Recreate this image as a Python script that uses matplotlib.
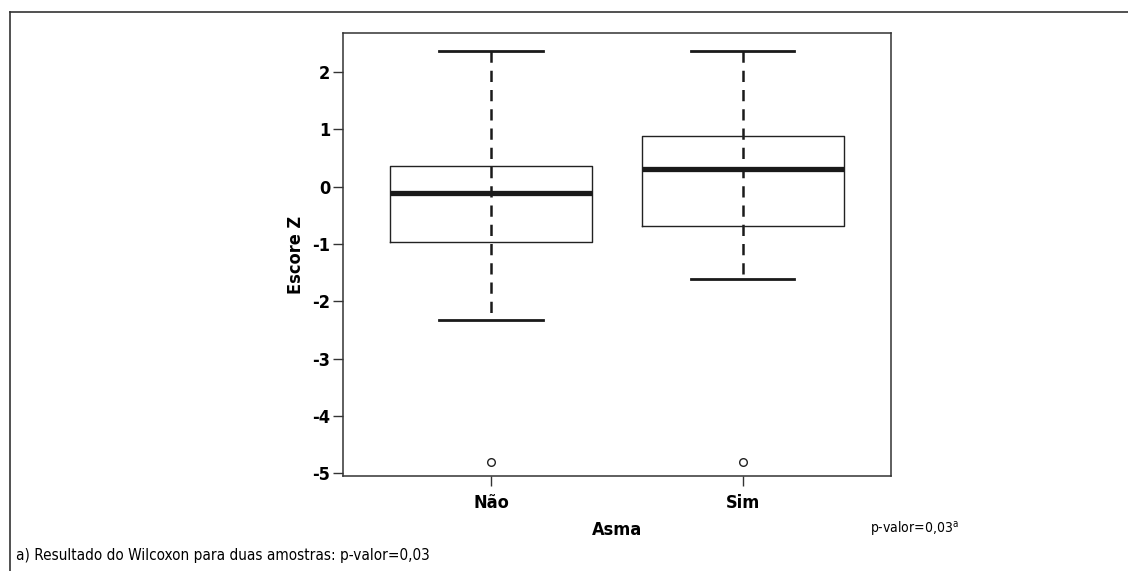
import matplotlib
matplotlib.use("Agg")
import matplotlib.pyplot as plt
from matplotlib.lines import Line2D

plt.rcParams['font.family'] = ['DejaVu Sans']
plt.rcParams['font.stretch'] = 'condensed'
plt.rcParams['axes.unicode_minus'] = False
plt.rcParams['mathtext.default'] = 'regular'

# dados
grupos = ["Não", "Sim"]
posicoes = [1, 2]
whislo = [-2.33, -1.62]
q1 = [-0.96, -0.68]
mediana = [-0.11, 0.31]
q3 = [0.36, 0.88]
whishi = [2.37, 2.37]
outliers = [[-4.81], [-4.81]]

stats = []
for i in range(len(grupos)):
    stats.append(dict(label=grupos[i], whislo=whislo[i], q1=q1[i], med=mediana[i],
                      q3=q3[i], whishi=whishi[i], fliers=outliers[i]))

fig = plt.figure(figsize=(11.28, 5.71), dpi=100)
ax = fig.add_axes([0.304, 0.166, 0.486, 0.776])

# linha tracejada passa por dentro da caixa, de extremo a extremo
ax.vlines(posicoes, whishi, whislo, colors='#1a1a1a', linewidth=1.8,
          linestyles=[(0, (4.5, 3.2))], zorder=1)

ax.bxp(stats, positions=posicoes, widths=0.8, patch_artist=False,
       boxprops=dict(color='#222222', linewidth=1.0),
       medianprops=dict(color='#1a1a1a', linewidth=3.8, solid_capstyle='butt'),
       whiskerprops=dict(linestyle='none'),
       capprops=dict(color='#1a1a1a', linewidth=2.0),
       capwidths=0.41,
       flierprops=dict(marker='o', markerfacecolor='none', markeredgecolor='#222222',
                       markersize=5.5, markeredgewidth=1.0))

ax.set_xlim(0.412, 2.589)
ax.set_ylim(-5.05, 2.675)
ax.set_yticks([2, 1, 0, -1, -2, -3, -4, -5])
ax.set_xticks(posicoes)
ax.set_xticklabels(grupos)
ax.tick_params(axis='both', length=7, width=1.0, color='#333333', labelsize=13)
for lab in ax.get_xticklabels() + ax.get_yticklabels():
    lab.set_fontweight('bold')
ax.tick_params(axis='y', pad=2)
ax.tick_params(axis='x', pad=6)
for s in ax.spines.values():
    s.set_linewidth(1.1)
    s.set_color('#333333')

ax.set_ylabel("Escore Z", fontsize=13, fontweight='bold', labelpad=5)
ax.set_xlabel("Asma", fontsize=13, fontweight='bold', labelpad=6)

fig.text(0.771, 0.072, "p-valor=0,03$^{a}$", fontsize=10, ha='left', va='center')
fig.text(0.014, 0.028, "a) Resultado do Wilcoxon para duas amostras: p-valor=0,03",
         fontsize=11, ha='left', va='center')

# moldura externa (apenas topo e esquerda)
fig.add_artist(Line2D([0.009, 1.0], [0.979, 0.979], color='#333333', linewidth=1.2,
                      transform=fig.transFigure))
fig.add_artist(Line2D([0.009, 0.009], [0.0, 0.979], color='#333333', linewidth=1.2,
                      transform=fig.transFigure))

fig.savefig("out.png", dpi=100)
